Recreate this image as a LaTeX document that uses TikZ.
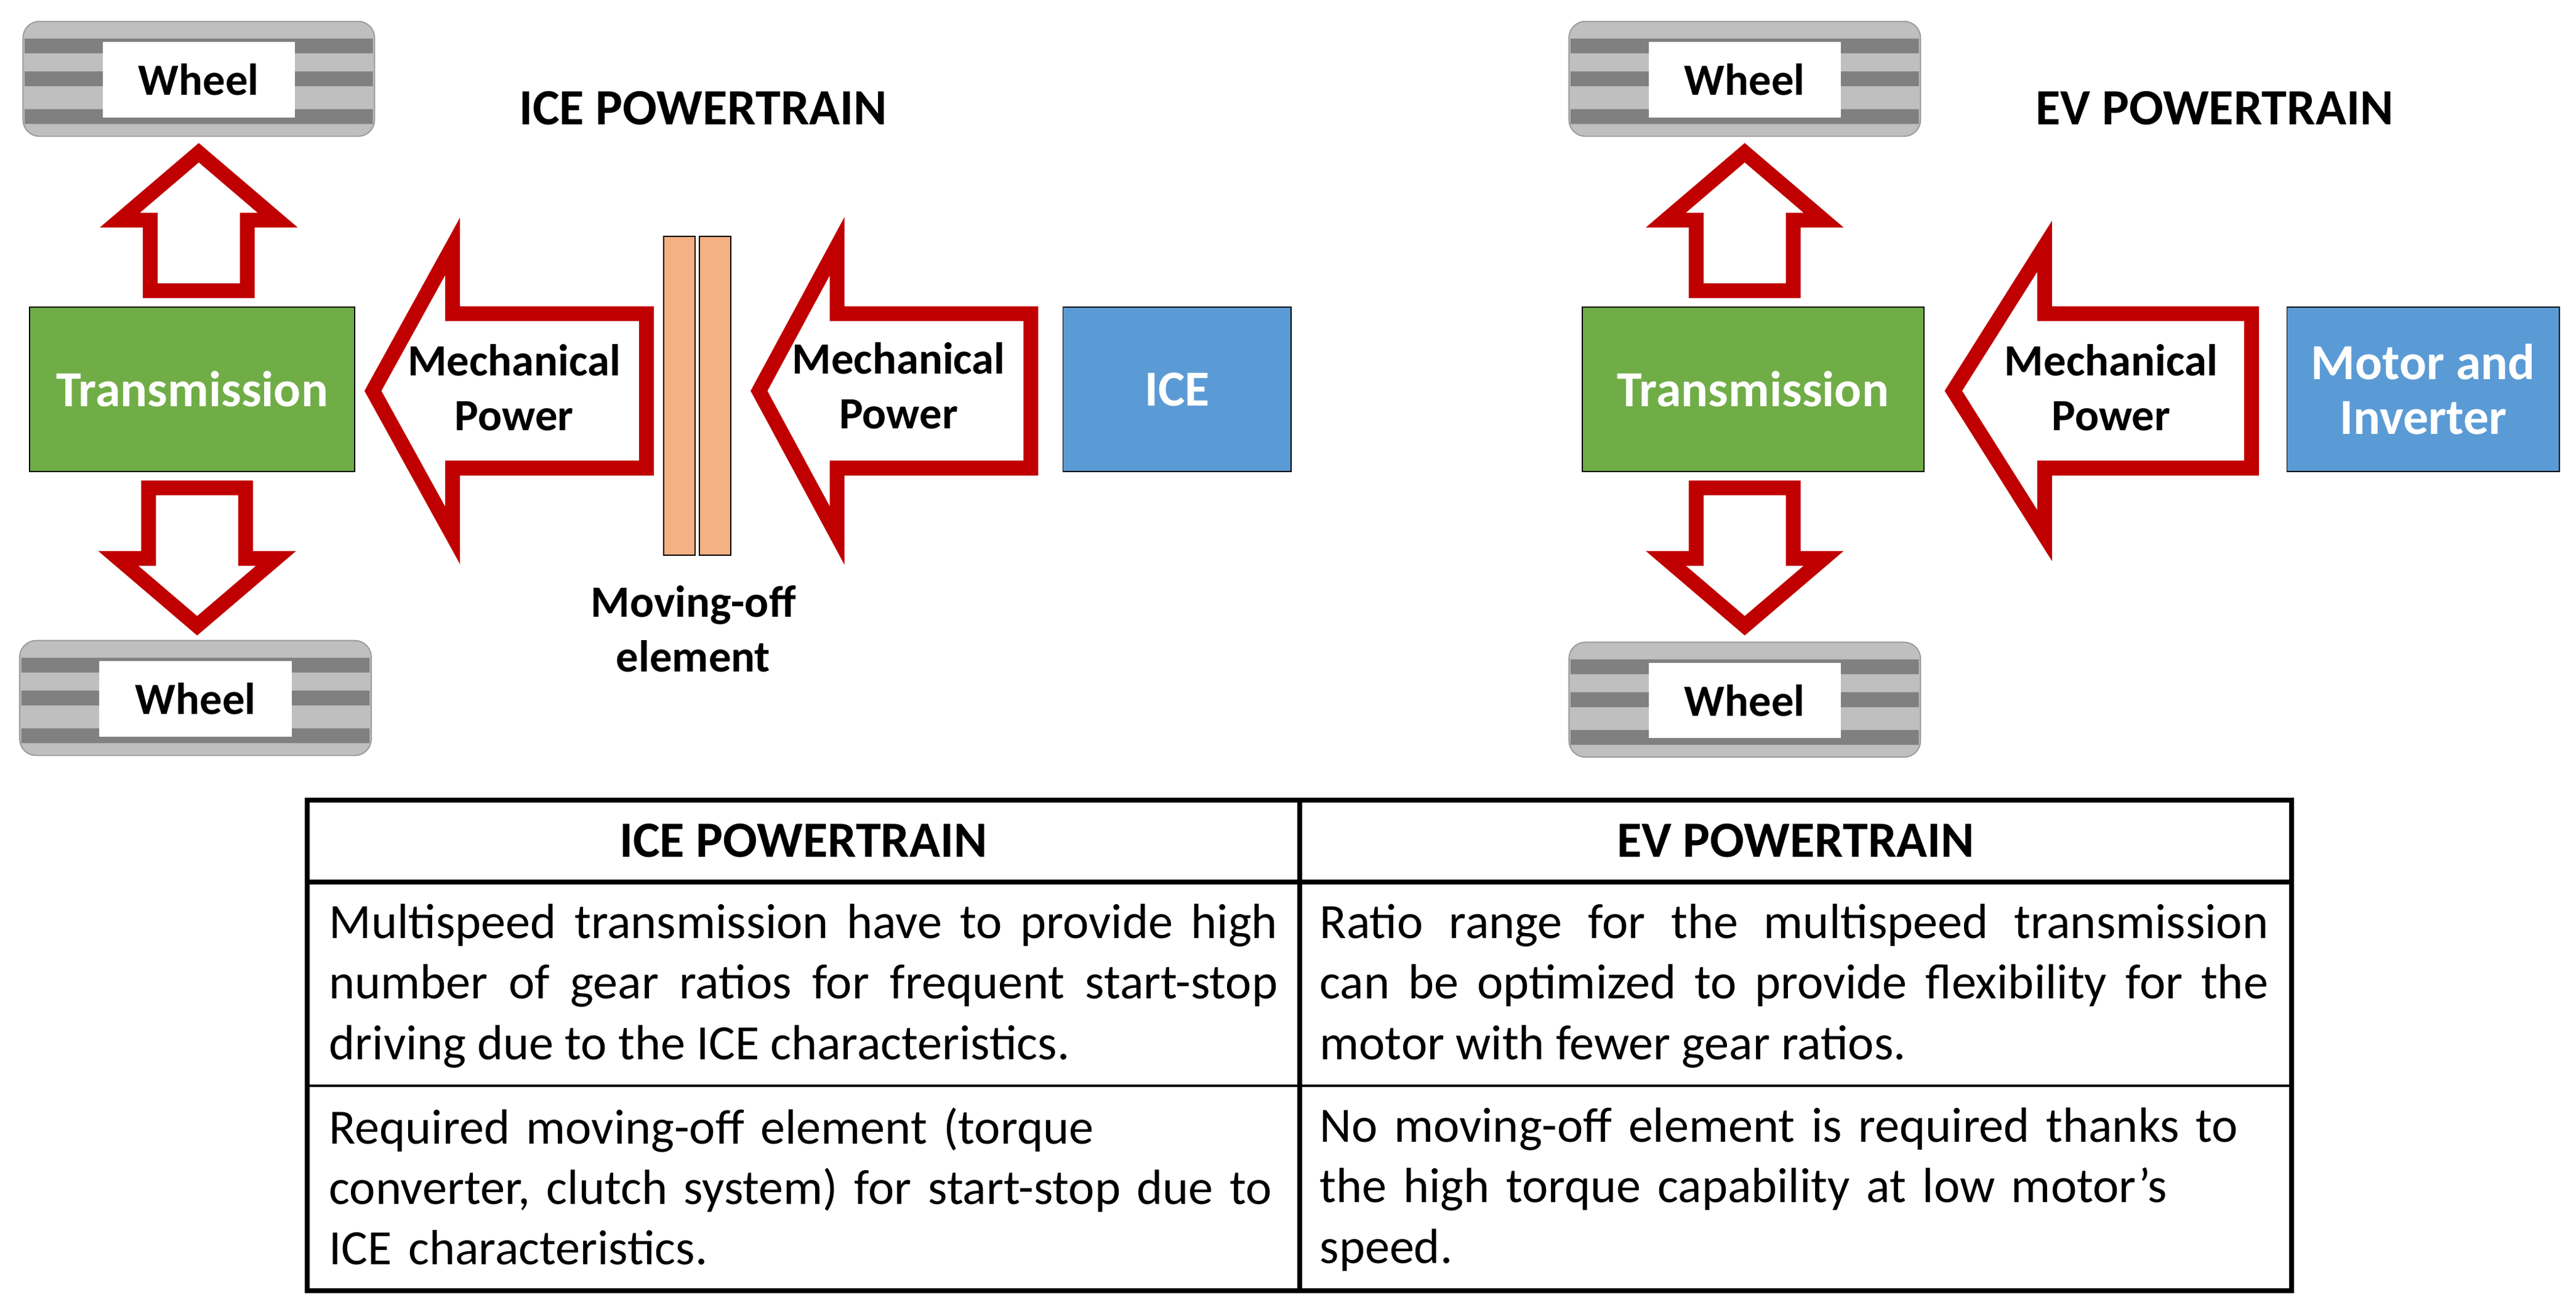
\documentclass[tikz,border=0pt]{standalone}
\usepackage{fontspec}
\setmainfont{Carlito}
\usetikzlibrary{positioning,calc}
\definecolor{pwrred}{HTML}{C00000}
\definecolor{trgreen}{HTML}{70AD47}
\definecolor{iceblue}{HTML}{5B9BD5}
\definecolor{clutch}{HTML}{F4B183}
\definecolor{tyrelight}{HTML}{BFBFBF}
\definecolor{tyredark}{HTML}{808080}
\tikzset{
    % coloured blocks
    block/.style={
           rectangle,
           draw=black, thin,
           minimum width=3.96cm,
           minimum height=2cm,
           text=white,
           align=center,
           font=\fontsize{17.5}{19}\selectfont\bfseries},
    % block arrows for power flow
    flow/.style={
           draw=pwrred,
           fill=white,
           line width=0.18cm,
           miter limit=20},
    % label inside the wheels
    tyre/.style={
           rectangle,
           fill=white,
           minimum width=2.34cm,
           minimum height=0.92cm,
           font=\fontsize{15.5}{18}\selectfont\bfseries},
    % plain labels
    lbl/.style={
           align=center,
           font=\fontsize{15.5}{19}\selectfont\bfseries},
    title/.style={
           font=\fontsize{17.6}{21}\selectfont\bfseries},
    % table cells
    cell/.style={
           text width=11.55cm,
           align=justify,
           inner sep=0pt,
           font=\fontsize{17.1}{21}\selectfont},
    head/.style={
           font=\fontsize{17.6}{21}\selectfont\bfseries}
}
% wheel at #1,#2 with node name #3
\newcommand{\wheelat}[3]{%
  \begin{scope}[shift={(#1,#2)}]
    \fill[tyrelight,rounded corners=0.2cm] (0,0) rectangle (214,70);
    \fill[tyredark] (1,10.5) rectangle (213,19.5) (1,30.5) rectangle (213,39.5)
       (1,53.5) rectangle (213,62.5);
    \draw[tyredark!80,rounded corners=0.2cm] (0,0) rectangle (214,70);
    \node[tyre] (#3) at (107,35.5) {Wheel};
  \end{scope}}
% vertical block arrow, tip at #1,#2, #3=1 up / -1 down
\newcommand{\vflow}[3]{%
  \draw[flow] (#1,#2+#3*7) -- (#1-48,#2+#3*48) -- (#1-29.5,#2+#3*48)
    -- (#1-29.5,#2+#3*91) -- (#1+29.5,#2+#3*91) -- (#1+29.5,#2+#3*48)
    -- (#1+48,#2+#3*48) -- cycle;}
% horizontal block arrow pointing left: tip, head back, tail end, middle
\newcommand{\hflow}[4]{%
  \draw[flow] (#1+7,#4) -- (#2+4.5,#4-88) -- (#2+4.5,#4-47) -- (#3-4.5,#4-47)
    -- (#3-4.5,#4+47) -- (#2+4.5,#4+47) -- (#2+4.5,#4+88) -- cycle;}

\begin{document}
\begin{tikzpicture}[x=0.02cm,y=-0.02cm]
    \useasboundingbox (0,0) rectangle (1568,798);
    % ICE side
    \wheelat{14}{13}{wheelA}
    \wheelat{12}{390}{wheelB}
    \node[title] (iceT) at (428,66) {ICE POWERTRAIN};
    \vflow{121}{86}{1}
    \vflow{120}{388}{-1}
    \node[block, fill=trgreen] (transA) at (117,237) {Transmission};
    \hflow{220}{271}{398}{238}
    \node[lbl] (mechA) at (313,236) {Mechanical\\Power};
    \node[draw=black, fill=clutch, minimum width=0.38cm, minimum height=3.88cm,
          inner sep=0pt] (plate1) at (413.5,241) {};
    \node[draw=black, fill=clutch, minimum width=0.38cm, minimum height=3.88cm,
          inner sep=0pt, right=0.04cm of plate1] (plate2) {};
    \node[lbl] (moving) at (422,383) {Moving-off\\element};
    \hflow{455}{505}{632}{238}
    \node[lbl] (mechB) at (547,235) {Mechanical\\Power};
    \node[block, fill=iceblue, minimum width=2.78cm] (ice) at (716.5,237) {ICE};
    % EV side
    \wheelat{955}{13}{wheelC}
    \wheelat{955}{391}{wheelD}
    \node[title] (evT) at (1348,66) {EV POWERTRAIN};
    \vflow{1062}{86}{1}
    \vflow{1062}{388}{-1}
    \node[block, fill=trgreen, minimum width=4.16cm] (transB) at (1067,237) {Transmission};
    \hflow{1182}{1240}{1375}{238}
    \node[lbl] (mechC) at (1285,236) {Mechanical\\Power};
    \node[block, fill=iceblue, minimum width=3.32cm] (motor) at (1475,237) {Motor and\\Inverter};
    % comparison table
    \draw[line width=0.06cm] (187,487) rectangle (1395,786) (791,487) -- (791,786)
        (187,537) -- (1395,537);
    \draw[line width=0.03cm] (187,661) -- (1395,661);
    \node[head] (hA) at (489,512) {ICE POWERTRAIN};
    \node[head] (hB) at (1093,512) {EV POWERTRAIN};
    \node[cell, anchor=north west] (c1) at (200,550) {Multispeed transmission have to provide high\linebreak number of gear ratios for frequent start-stop\linebreak driving due to the ICE characteristics.};
    \node[cell, anchor=north west] (c2) at (803,550) {Ratio range for the multispeed transmission\linebreak can be optimized to provide flexibility for the\linebreak motor with fewer gear ratios.};
    \node[cell, anchor=north west, align=left] (c3) at (200,674) {Required moving-off element (torque\\converter, clutch system) for start-stop due to\\ICE characteristics.};
    \node[cell, anchor=north west, align=left] (c4) at (803,674) {No moving-off element is required thanks to\\the high torque capability at low motor’s\\speed.};
\end{tikzpicture}
\end{document}
